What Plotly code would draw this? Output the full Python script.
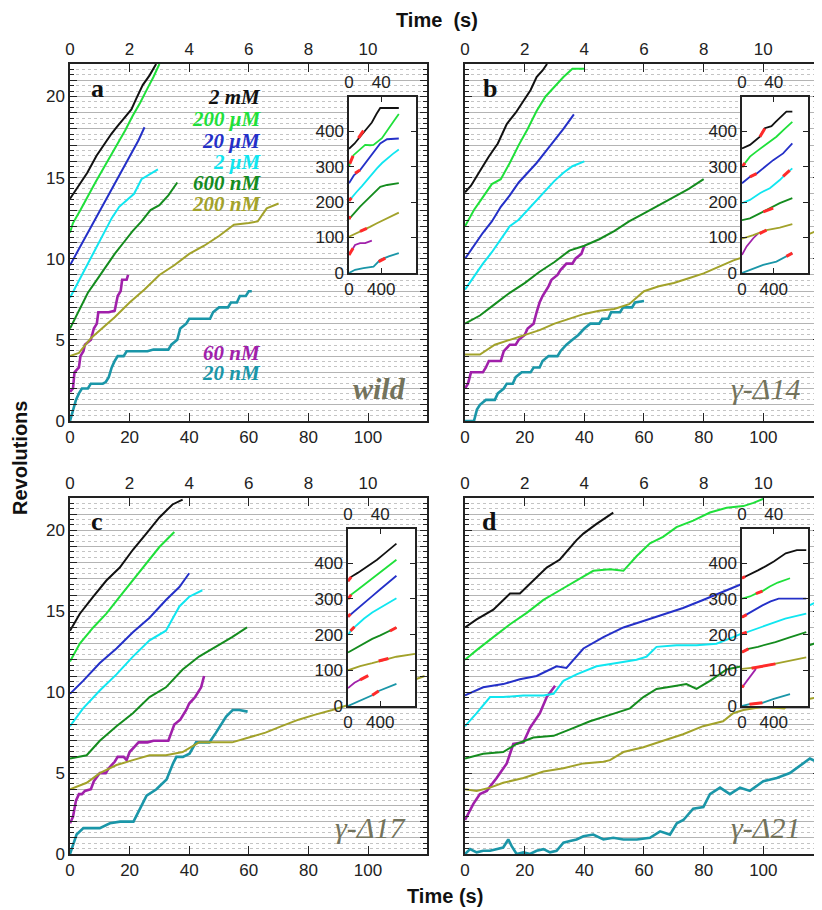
import plotly.graph_objects as go

# page body has an 8px margin: figure is placed at (8, 8) inside the 822x910 window
OFF = 8
W, H = 822 - OFF, 910 - OFF

# ---------------- series definitions ----------------
SERIES = ["2 mM", "200 μM", "20 μM", "2 μM", "600 nM", "200 nM", "60 nM", "20 nM"]
COLORS = ["#111111", "#1fe03a", "#2430c8", "#10e6f0", "#148c1e", "#a2a22a", "#a020aa", "#1a96a8"]
FAST = [True, True, True, True, True, True, False, False]   # fast traces use the top time axis
RED = "#ff2a2a"

# ---------------- panel a (wild) : (time s, revolutions) ----------------
a_2mM = [(0, 13.7), (0.33, 14.6), (0.58, 15.3), (0.89, 16.35), (1.11, 16.96), (1.39, 17.7), (1.56, 18.1),
         (1.78, 18.6), (2.06, 19.2), (2.22, 19.85), (2.44, 20.7), (2.67, 21.3), (2.89, 22.0)]
a_200uM = [(0, 11.6), (0.1, 12.2), (0.35, 13.0), (0.6, 13.9), (0.85, 14.7), (1.1, 15.5), (1.35, 16.3), (1.6, 17.1),
           (1.85, 17.9), (2.1, 18.8), (2.35, 19.6), (2.6, 20.5), (2.8, 21.2), (3.0, 22.0)]
a_20uM = [(0, 9.6), (0.3, 10.6), (0.6, 11.6), (0.9, 12.6), (1.2, 13.6), (1.5, 14.6), (1.8, 15.6), (2.1, 16.6),
          (2.3, 17.3), (2.5, 18.1)]
a_2uM = [(0, 7.6), (0.2, 8.3), (0.5, 9.4), (0.8, 10.4), (1.1, 11.5), (1.4, 12.5), (1.65, 13.2), (1.9, 13.6),
         (2.15, 14.0), (2.4, 14.9), (2.6, 15.1), (2.8, 15.3), (2.95, 15.5)]
a_600nM = [(0, 5.7), (0.3, 6.8), (0.6, 7.9), (0.9, 8.7), (1.2, 9.5), (1.5, 10.3), (1.8, 11.0), (2.1, 11.7),
           (2.4, 12.3), (2.7, 13.0), (3.0, 13.3), (3.3, 13.9), (3.6, 14.7)]
a_200nM = [(0, 4.0), (0.3, 4.2), (0.7, 5.1), (1.0, 5.6), (1.5, 6.4), (2.0, 7.3), (2.5, 8.1), (3.0, 9.0), (3.5, 9.6),
           (4.0, 10.3), (4.5, 10.8), (5.0, 11.4), (5.5, 12.1), (6.0, 12.2), (6.3, 12.3), (6.6, 13.1), (7.0, 13.4)]
a_60nM = [(0, 1.8), (1, 2.0), (1.5, 3.0), (3, 3.3), (3.5, 4.0), (4.5, 4.3), (5, 4.7), (7, 5.0), (8, 5.7), (9, 6.0),
          (9.5, 6.7), (12, 6.7), (13, 6.7), (15, 6.8), (15.5, 7.3), (16, 7.7), (17, 8.0), (17.5, 8.7), (19, 8.7),
          (19.5, 9.0)]
a_20nM = [(0, 0), (1, 0.7), (2, 1.3), (3, 1.7), (4, 2.0), (6, 2.0), (7, 2.3), (11, 2.3), (12, 2.4), (13, 2.7),
          (14, 3.3), (15, 3.7), (16, 4.0), (18, 4.0), (19, 4.3), (26, 4.3), (28, 4.4), (33, 4.4), (34, 4.7),
          (36, 5.0), (37, 5.7), (39, 6.0), (40, 6.3), (47, 6.3), (48, 6.7), (50, 7.0), (53, 7.0), (54, 7.3),
          (56, 7.3), (57, 7.7), (59, 7.7), (60, 8.0), (61, 8.0)]

# ---------------- panel b (γ-Δ14) ----------------
b_2mM = [(0, 14.1), (0.2, 14.5), (0.5, 15.4), (0.8, 16.3), (1.1, 17.1), (1.4, 18.3), (1.7, 19.0), (2.0, 19.8),
         (2.2, 20.4), (2.4, 21.2), (2.6, 21.6), (2.75, 22.0)]
b_200uM = [(0, 12.0), (0.3, 13.0), (0.6, 13.8), (0.9, 14.6), (1.2, 14.9), (1.5, 15.9), (1.8, 17.0), (2.1, 18.0),
           (2.4, 19.1), (2.7, 20.0), (3.0, 20.6), (3.3, 21.2), (3.6, 21.7), (4.0, 21.7)]
b_20uM = [(0, 10.0), (0.3, 10.8), (0.6, 11.6), (0.9, 12.3), (1.2, 13.2), (1.5, 13.9), (1.8, 14.7), (2.1, 15.3),
          (2.4, 15.9), (2.7, 16.6), (3.0, 17.3), (3.3, 18.0), (3.65, 18.9)]
b_2uM = [(0, 8.1), (0.3, 8.9), (0.6, 9.7), (0.9, 10.4), (1.2, 11.2), (1.5, 12.0), (1.8, 12.4), (2.1, 13.0),
         (2.4, 13.6), (2.7, 14.2), (3.0, 14.8), (3.3, 15.3), (3.6, 15.7), (4.0, 16.0)]
b_600nM = [(0, 6.0), (0.5, 6.5), (1.0, 7.2), (1.5, 7.9), (2.0, 8.5), (2.5, 9.2), (3.0, 9.8), (3.5, 10.5),
           (4.0, 10.8), (4.5, 11.2), (5.0, 11.7), (5.5, 12.3), (6.0, 12.8), (6.5, 13.3), (7.0, 13.8), (7.5, 14.3),
           (8.0, 14.9)]
b_200nM = [(0, 4.1), (0.5, 4.1), (1.0, 4.7), (1.5, 5.0), (2.0, 5.3), (2.5, 5.6), (3.0, 6.0), (3.5, 6.3), (4.0, 6.6),
           (4.5, 6.8), (5.0, 6.9), (5.5, 7.2), (6.0, 8.0), (6.5, 8.3), (7.0, 8.5), (7.5, 8.8), (8.0, 9.1),
           (8.5, 9.5), (9.0, 9.9), (9.5, 10.2), (10.0, 10.5), (10.5, 10.9), (11.0, 11.2), (11.5, 11.5), (11.9, 11.8)]
b_60nM = [(0, 2.0), (1, 2.3), (2, 3.0), (6, 3.0), (7, 3.3), (8, 3.7), (12, 3.7), (13, 4.3), (15, 4.7), (17, 4.7),
          (18, 5.0), (20, 5.3), (21, 5.7), (23, 6.0), (24, 6.7), (25, 7.3), (26, 7.7), (27, 8.0), (28, 8.3),
          (29, 8.7), (31, 9.0), (32, 9.3), (34, 9.7), (36, 9.7), (37, 10.0), (39, 10.3), (40, 10.8)]
b_20nM = [(0, 0), (3, 0), (4, 0.7), (5, 1.0), (7, 1.3), (10, 1.3), (11, 1.7), (13, 2.0), (14, 2.3), (16, 2.3),
          (17, 2.7), (19, 3.0), (22, 3.0), (23, 3.3), (25, 3.3), (26, 3.7), (28, 4.0), (31, 4.0), (32, 4.3),
          (34, 4.7), (36, 5.0), (38, 5.3), (40, 5.7), (42, 6.0), (45, 6.0), (46, 6.3), (48, 6.3), (49, 6.7),
          (52, 6.7), (53, 7.0), (56, 7.0), (57, 7.3), (60, 7.4)]

# ---------------- panel c (γ-Δ17) ----------------
c_2mM = [(0, 13.8), (0.33, 14.85), (0.78, 15.9), (1.22, 16.9), (1.67, 17.7), (2.11, 18.8), (2.56, 19.8),
         (3.0, 20.8), (3.44, 21.6), (3.78, 21.9)]
c_200uM = [(0, 11.9), (0.33, 13.0), (0.78, 14.0), (1.22, 14.85), (1.67, 15.9), (2.11, 16.9), (2.56, 17.9),
           (3.0, 18.97), (3.5, 19.9)]
c_20uM = [(0, 9.9), (0.44, 10.7), (1.0, 11.8), (1.56, 12.7), (2.11, 13.7), (2.67, 14.6), (3.22, 15.7),
          (3.67, 16.5), (4.0, 17.35)]
c_2uM = [(0, 7.9), (0.44, 9.0), (1.0, 10.1), (1.56, 11.1), (2.11, 12.2), (2.67, 13.2), (3.22, 13.8), (3.67, 15.3),
         (4.0, 15.9), (4.44, 16.3)]
c_600nM = [(0, 5.9), (0.56, 6.1), (1.0, 7.0), (1.56, 7.9), (2.11, 8.7), (2.67, 9.7), (3.22, 10.3), (3.78, 11.4),
           (4.33, 12.2), (4.89, 12.8), (5.44, 13.4), (5.94, 14.0)]
c_200nM = [(0, 4.0), (0.56, 4.4), (1.0, 5.0), (1.56, 5.5), (2.11, 5.8), (2.67, 6.1), (3.22, 6.1), (3.78, 6.3),
           (4.33, 6.9), (4.89, 6.9), (5.44, 6.9), (6.0, 7.2), (6.56, 7.5), (7.1, 7.9), (7.67, 8.3), (8.2, 8.6),
           (8.8, 8.9), (9.5, 9.3), (10.5, 9.9), (11.0, 10.4), (11.9, 11.0)]
c_60nM = [(0, 1.9), (1, 2.3), (2, 3.3), (3, 3.7), (4, 3.7), (5, 3.9), (7, 4.0), (8, 4.5), (10, 5.0), (12, 5.0),
          (13, 5.3), (15, 5.7), (16, 6.0), (18, 6.0), (19, 5.8), (20, 6.3), (22, 6.7), (23, 6.9), (26, 6.9),
          (28, 7.0), (30, 7.0), (33, 7.0), (34, 7.5), (35, 8.0), (37, 8.3), (39, 8.9), (40, 9.3), (42, 9.7),
          (44, 10.3), (45, 11.0)]
c_20nM = [(0, 0), (2.2, 1.2), (4.5, 1.6), (6.7, 1.6), (10, 1.6), (13.4, 1.9), (16.8, 2.0), (21.3, 2.0), (23.5, 2.8),
          (25.7, 3.6), (29, 4.0), (32.4, 4.6), (34.6, 5.6), (35.7, 6.0), (37.9, 6.0), (40.1, 6.2), (42.3, 6.9),
          (46.8, 6.9), (49, 7.5), (52.4, 8.5), (54.6, 8.9), (56.8, 8.9), (59.6, 8.8)]

# ---------------- panel d (γ-Δ21) ----------------
d_2mM = [(0, 14.0), (0.39, 14.5), (0.95, 15.1), (1.51, 16.1), (1.84, 16.1), (2.29, 16.9), (2.74, 17.7),
         (3.18, 18.2), (3.74, 19.4), (3.97, 19.8), (4.41, 20.4), (4.97, 21.1)]
d_200uM = [(0, 12.0), (0.39, 12.6), (0.95, 13.4), (1.51, 14.2), (2.07, 14.9), (2.63, 15.7), (3.18, 16.3),
           (3.74, 16.9), (4.3, 17.5), (4.86, 17.6), (5.31, 17.5), (5.75, 18.4), (6.2, 19.2), (6.64, 19.6),
           (7.09, 20.2), (7.65, 20.6), (8.21, 21.1), (8.77, 21.4), (9.33, 21.5), (9.67, 21.7), (10.0, 21.95)]
d_20uM = [(0, 9.8), (0.61, 10.3), (1.28, 10.5), (1.84, 10.8), (2.4, 11.0), (3.07, 11.6), (3.4, 11.5), (3.97, 12.7),
          (4.64, 13.4), (5.31, 14.0), (5.98, 14.4), (6.64, 14.8), (7.31, 15.2), (7.98, 15.7), (8.65, 16.2),
          (9.3, 16.7)]
d_2uM = [(0, 7.9), (0.39, 8.7), (0.84, 9.7), (1.28, 9.7), (1.96, 9.8), (2.63, 9.8), (2.97, 9.9), (3.3, 10.7),
         (3.74, 11.1), (4.41, 11.6), (5.09, 11.8), (5.75, 12.0), (6.09, 12.2), (6.42, 12.8), (7.09, 12.9),
         (7.76, 12.9), (8.43, 13.0), (8.99, 13.4), (10.0, 14.2), (11.0, 14.9), (11.7, 15.5), (11.96, 15.6)]
d_600nM = [(0, 5.9), (0.61, 6.2), (1.28, 6.3), (1.73, 6.8), (2.29, 7.2), (2.97, 7.3), (3.52, 7.7), (4.19, 8.2),
           (4.86, 8.6), (5.53, 9.0), (5.98, 9.7), (6.42, 10.2), (7.09, 10.4), (7.42, 10.5), (7.76, 10.2),
           (8.21, 10.7), (8.77, 11.4), (9.5, 11.7), (10.5, 12.3), (11.7, 13.0), (11.96, 13.4)]
d_200nM = [(0, 4.0), (0.39, 3.9), (0.84, 4.1), (1.28, 4.4), (1.96, 4.7), (2.63, 5.1), (3.3, 5.3), (3.97, 5.6),
           (4.64, 5.7), (4.86, 5.8), (5.31, 6.3), (5.98, 6.6), (6.64, 7.0), (7.31, 7.4), (7.98, 7.9), (8.65, 8.2),
           (8.99, 8.7), (9.33, 8.9), (10.0, 9.1), (10.7, 9.0), (10.9, 9.3), (11.56, 9.6), (11.96, 9.7)]
d_60nM = [(0, 2.1), (2.8, 3.1), (5.0, 3.7), (7.3, 3.9), (10.6, 4.7), (14, 5.6), (16.2, 6.8), (19.6, 6.9),
          (21.8, 7.8), (25.1, 8.7), (27.4, 9.7), (30.2, 10.4)]
d_20nM = [(0, 0), (1.7, 0.3), (3.9, 0.1), (6.1, 0.2), (8.4, 0.2), (10.6, 0.3), (12.8, 0.4), (14.5, 0.9),
          (15.6, 0.5), (17.3, 0.0), (19.6, 0.1), (21.8, 0.0), (24, 0.2), (26.3, 0.3), (28.5, 0.1), (30.7, 0.2),
          (33, 0.7), (35.2, 0.8), (37.4, 0.9), (39.7, 1.1), (43, 1.2), (46.4, 0.9), (49.7, 1.0), (53.1, 0.9),
          (57.6, 0.9), (62, 1.0), (65.4, 1.4), (68.7, 1.2), (71, 1.9), (73.2, 2.1), (76.5, 2.8), (79.9, 2.9),
          (82.1, 3.7), (85.5, 4.1), (88.8, 3.7), (92.2, 4.1), (95.5, 3.9), (100, 4.5), (104.5, 4.7), (108.9, 5.0),
          (113.4, 5.6), (115.6, 5.9), (117.8, 5.7), (119.5, 5.4)]

# ---------------- insets : (time s, revolutions + offset); fast series on top axis ----------------
ai_2mM = [(0, 350), (7, 365), (13.7, 384), (21, 404), (28.3, 424), (34, 448), (38.7, 465), (61.7, 465)]
ai_200uM = [(0, 300), (2, 315), (5.6, 332), (12, 345), (20, 361), (26.2, 360), (30.4, 361), (40.8, 380),
            (46, 396), (51.2, 413), (56, 430), (61.7, 448)]
ai_20uM = [(0, 253), (6, 275), (13.7, 290), (21, 311), (28.3, 332), (33.5, 349), (38.7, 365), (47.1, 377),
           (61.7, 379)]
ai_2uM = [(0, 203), (4, 215), (9.6, 229), (16, 245), (22.1, 262), (29, 280), (34.6, 295), (41, 310), (47.1, 323),
          (54, 335), (61.7, 348)]
ai_600nM = [(0, 152), (6, 168), (13.7, 187), (20, 201), (26.2, 215), (32.5, 229), (38.7, 243), (47.1, 248),
            (61.7, 253)]
ai_200nM = [(0, 102), (9, 111), (17.9, 121), (26, 130), (34.6, 140), (47.1, 154), (61.7, 170)]
ai_60nM = [(0, 51), (40, 66), (75, 79), (137, 84), (200, 84), (283, 91)]
ai_20nM = [(0, 0), (40, 5), (75, 9), (179, 14), (304, 18), (387, 37), (440, 42), (492, 47), (617, 56)]
ai_red = [[(11.7, 380), (17.9, 401)], [(1, 308), (5, 330)], [(7.5, 281), (13.7, 290)], [(0, 203), (3, 212)],
          [(0, 152), (1.5, 160)], [(13.7, 117), (22.1, 126)], [(0, 51), (50, 70)], [(367, 32), (450, 42)]]

bi_2mM = [(0, 351), (10, 361), (16, 372), (22.5, 384), (28.7, 408), (33, 412), (37.1, 414), (42, 425), (47.5, 436),
          (55.8, 455), (63.3, 455)]
bi_200uM = [(0, 299), (10, 328), (18, 342), (26.7, 356), (35, 370), (43.3, 384), (53, 405), (63.3, 426)]
bi_20uM = [(0, 253), (10, 271), (18.3, 280), (26.7, 295), (39.2, 318), (51.7, 337), (63.3, 365)]
bi_2uM = [(0, 197), (10, 206), (22.5, 225), (35, 239), (47.5, 262), (55.8, 281), (63.3, 295)]
bi_600nM = [(0, 149), (10, 154), (22.5, 168), (35, 182), (47.5, 197), (63.3, 211)]
bi_200nM = [(0, 97), (14.2, 107), (30.8, 121), (47.5, 128), (63.3, 138)]
bi_60nM = [(0, 51), (58, 75), (142, 98), (204, 112)]
bi_20nM = [(0, 0), (100, 9), (267, 23), (433, 32), (558, 47), (633, 56)]
bi_red = [[(22.5, 384), (28.7, 407)], [(0, 299), (3.7, 310)], [(10, 271), (18.3, 280)], [(51.7, 272), (60, 289)],
          [(26.7, 172), (39.2, 183)], [(22, 111), (30.8, 121)], [], [(558, 47), (633, 56)]]

ci_2mM = [(0, 350), (4, 362), (12, 373), (20, 385), (28, 398), (36, 410), (44, 425), (52, 440), (60, 455)]
ci_200uM = [(0, 300), (4, 312), (12, 326), (20, 340), (30, 357), (40, 375), (50, 393), (60, 410)]
ci_20uM = [(0, 250), (10, 270), (20, 290), (30, 308), (40, 327), (50, 346), (60, 365)]
ci_2uM = [(0, 200), (4, 212), (10, 225), (20, 245), (30, 262), (40, 276), (50, 290), (60, 302)]
ci_600nM = [(0, 150), (10, 163), (20, 176), (30, 188), (40, 198), (50, 208), (60, 220)]
ci_200nM = [(0, 100), (15, 112), (30, 120), (45, 128), (60, 138), (83, 146)]
ci_60nM = [(0, 50), (80, 65), (160, 75), (250, 85)]
ci_20nM = [(0, 0), (100, 10), (200, 20), (300, 30), (380, 42), (480, 52), (600, 62)]
ci_red = [[(0, 350), (4, 362)], [(0, 300), (4, 312)], [(0, 250), (3, 258)], [(3, 210), (8, 222)],
          [(52, 210), (60, 220)], [(38, 126), (50, 133)], [(150, 73), (250, 85)], [(300, 30), (380, 42)]]

di_2mM = [(0, 358), (10, 368), (20, 380), (30, 392), (40, 405), (55, 428), (69, 437), (80.8, 437)]
di_200uM = [(0, 301), (10, 307), (17.5, 315), (25.7, 322), (35, 335), (45, 346), (60.4, 358)]
di_20uM = [(0, 249), (10, 262), (25.7, 282), (36, 293), (46.1, 301), (80.8, 301)]
di_2uM = [(0, 202), (10, 210), (25.7, 221), (40, 233), (54.3, 245), (80.8, 259)]
di_600nM = [(0, 151), (8, 160), (20, 166), (42, 179), (60, 192), (80.8, 207)]
di_200nM = [(0, 104), (17.5, 108), (30, 113), (42, 118), (60, 127), (80.8, 136)]
di_60nM = [(0, 52), (60, 70), (120, 88), (175, 104)]
di_20nM = [(0, 0), (94, 5), (257, 9), (400, 20), (604, 33)]
di_red = [[(0, 358), (4, 363)], [(17.5, 315), (25.7, 322)], [(0, 249), (6, 256)], [(0, 202), (6, 207)],
          [(0, 151), (8, 160)], [(12, 106), (42, 118)], [(0, 52), (20, 58)], [(94, 5), (257, 9)]]

PANEL_LETTERS = ["a", "b", "c", "d"]
PANEL_NAMES = ["wild", "γ-Δ14", "γ-Δ17", "γ-Δ21"]
MAIN = [[a_2mM, a_200uM, a_20uM, a_2uM, a_600nM, a_200nM, a_60nM, a_20nM],
        [b_2mM, b_200uM, b_20uM, b_2uM, b_600nM, b_200nM, b_60nM, b_20nM],
        [c_2mM, c_200uM, c_20uM, c_2uM, c_600nM, c_200nM, c_60nM, c_20nM],
        [d_2mM, d_200uM, d_20uM, d_2uM, d_600nM, d_200nM, d_60nM, d_20nM]]
INSET = [[ai_2mM, ai_200uM, ai_20uM, ai_2uM, ai_600nM, ai_200nM, ai_60nM, ai_20nM],
         [bi_2mM, bi_200uM, bi_20uM, bi_2uM, bi_600nM, bi_200nM, bi_60nM, bi_20nM],
         [ci_2mM, ci_200uM, ci_20uM, ci_2uM, ci_600nM, ci_200nM, ci_60nM, ci_20nM],
         [di_2mM, di_200uM, di_20uM, di_2uM, di_600nM, di_200nM, di_60nM, di_20nM]]
INSET_RED = [ai_red, bi_red, ci_red, di_red]

MAIN_XTICKS = [0, 20, 40, 60, 80, 100]
TOP_XTICKS = [0, 2, 4, 6, 8, 10]
Y_TICKVALS = list(range(0, 23))
Y_TICKTEXT = [str(v) if v % 5 == 0 else "" for v in Y_TICKVALS]
INSET_XTICKS = [0, 400]
INSET_TOP_XTICKS = [0, 40]
INSET_YTICKS = [0, 100, 200, 300, 400]

# ---------------- geometry (window pixels) ----------------
MAIN_BOX = [(70, 427, 64, 421), (465, 820, 64, 421), (70, 427, 498, 854), (465, 820, 498, 854)]
MAIN_XMAX = [119.8, 119.0, 119.8, 119.0]
INSET_BOX = [(349, 416, 97, 273), (742, 808, 97, 273), (348, 415, 529, 706), (742, 808, 529, 706)]
INSET_XMAX = 830
INSET_YMAX = 496


def xdom(x0, x1):
    return [(x0 - OFF) / W, (x1 - OFF) / W]


def ydom(y0, y1):
    return [1 - (y1 - OFF) / H, 1 - (y0 - OFF) / H]


TICKFONT = dict(family="Liberation Sans, Arial, sans-serif", size=17, color="#222")
AX = dict(showline=True, linecolor="#222", linewidth=1.5, ticks="inside", tickcolor="#222", tickwidth=1.3,
          zeroline=False, tickfont=TICKFONT, showgrid=False, automargin=False)

fig = go.Figure()
layout = {}
shapes = []

for p in range(4):
    i = p + 1
    bx0, bx1, by0, by1 = MAIN_BOX[p]
    ix0, ix1, iy0, iy1 = INSET_BOX[p]
    xb, xt, ym = f"x{i}", f"x{8 + i}", f"y{i}"
    xib, xit, yi = f"x{4 + i}", f"x{12 + i}", f"y{4 + i}"

    layout[f"xaxis{i}"] = dict(AX, domain=xdom(bx0, bx1), range=[0, MAIN_XMAX[p]], anchor=ym,
                               tickvals=MAIN_XTICKS, ticklen=8)
    layout[f"xaxis{8 + i}"] = dict(AX, overlaying=xb, side="top", anchor=ym, range=[0, MAIN_XMAX[p] / 10],
                                   tickvals=TOP_XTICKS, ticklen=8)
    layout[f"yaxis{i}"] = dict(AX, domain=ydom(by0, by1), range=[0, 22], anchor=xb,
                               tickvals=Y_TICKVALS, ticktext=Y_TICKTEXT, showticklabels=(p % 2 == 0),
                               ticklen=7, mirror="ticks", showgrid=True, gridcolor="#b4b4b4", gridwidth=1,
                               minor=dict(dtick=1 / 3, tick0=0, ticks="inside", ticklen=4, tickcolor="#222",
                                          showgrid=True, gridcolor="#c4c4c4", griddash="dot", gridwidth=1))
    layout[f"xaxis{4 + i}"] = dict(AX, domain=xdom(ix0, ix1), range=[0, INSET_XMAX], anchor=yi,
                                   tickvals=INSET_XTICKS, ticklen=5)
    layout[f"xaxis{12 + i}"] = dict(AX, overlaying=xib, side="top", anchor=yi, range=[0, INSET_XMAX / 10],
                                    tickvals=INSET_TOP_XTICKS, ticklen=5)
    layout[f"yaxis{4 + i}"] = dict(AX, domain=ydom(iy0, iy1), range=[0, INSET_YMAX], anchor=xib,
                                   tickvals=INSET_YTICKS, ticklen=5, mirror="ticks")

    shapes.append(dict(type="rect", xref=xib, yref=yi, x0=0, x1=INSET_XMAX, y0=0, y1=INSET_YMAX,
                       fillcolor="white", line=dict(width=0), layer="between"))

    # main traces
    for s in range(8):
        pts = MAIN[p][s]
        fig.add_trace(go.Scatter(x=[q[0] for q in pts], y=[q[1] for q in pts], mode="lines",
                                 line=dict(color=COLORS[s], width=2.0 if FAST[s] else 2.6),
                                 xaxis=xt if FAST[s] else xb, yaxis=ym, name=SERIES[s], showlegend=False,
                                 hoverinfo="skip"))
    # inset traces
    for s in range(8):
        pts = INSET[p][s]
        xa = xit if FAST[s] else xib
        fig.add_trace(go.Scatter(x=[q[0] for q in pts], y=[q[1] for q in pts], mode="lines",
                                 line=dict(color=COLORS[s], width=1.8), xaxis=xa, yaxis=yi,
                                 showlegend=False, hoverinfo="skip"))
        red = INSET_RED[p][s]
        if red:
            fig.add_trace(go.Scatter(x=[q[0] for q in red], y=[q[1] for q in red], mode="lines",
                                     line=dict(color=RED, width=3), xaxis=xa, yaxis=yi,
                                     showlegend=False, hoverinfo="skip"))

# ---------------- annotations ----------------
ann = []


def px_ann(text, x, y, size, color="#111", xanchor="center", family="Liberation Serif, Times New Roman, serif",
           textangle=0):
    ann.append(dict(text=text, x=(x - OFF) / W, y=1 - (y - OFF) / H, xref="paper", yref="paper",
                    showarrow=False, xanchor=xanchor, yanchor="middle", textangle=textangle,
                    font=dict(family=family, size=size, color=color)))


LETTER_POS = [(97, 88), (490, 88), (97, 521), (490, 521)]
for p in range(4):
    px_ann(f"<b>{PANEL_LETTERS[p]}</b>", LETTER_POS[p][0], LETTER_POS[p][1], 26)

NAME_POS = [(408, 388), (802, 388), (408, 827), (802, 827)]
for p in range(4):
    txt = f"<b><i>{PANEL_NAMES[p]}</i></b>" if p == 0 else f"<i>{PANEL_NAMES[p]}</i>"
    px_ann(txt, NAME_POS[p][0], NAME_POS[p][1], 30, color="#73735c", xanchor="right")

CONC_Y = [97, 119, 141, 162, 183, 204, 353, 373]
for s in range(8):
    px_ann(f"<b><i>{SERIES[s]}</i></b>", 263, CONC_Y[s], 21, color=COLORS[s], xanchor="right")

TITLE_FONT = "Liberation Sans, Arial, sans-serif"
px_ann("<b>Time  (s)</b>", 437, 20, 20, family=TITLE_FONT)
px_ann("<b>Time (s)</b>", 445, 896, 20, family=TITLE_FONT)
px_ann("<b>Revolutions</b>", 20, 458, 20, family=TITLE_FONT, textangle=-90)

fig.update_layout(**layout)
fig.update_layout(width=W, height=H, margin=dict(l=0, r=0, t=0, b=0), plot_bgcolor="white",
                  paper_bgcolor="white", showlegend=False, shapes=shapes, annotations=ann)

fig.write_html("out.html")
